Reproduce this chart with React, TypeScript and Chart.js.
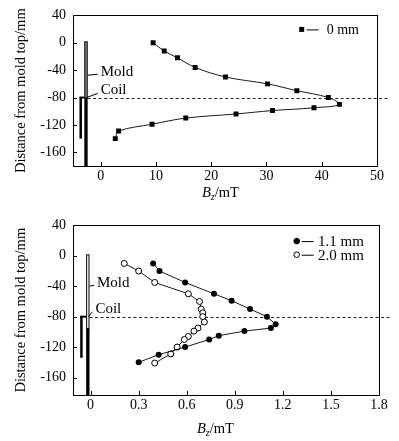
import React, { useEffect, useRef } from 'react';
import { Chart, registerables } from 'chart.js';

Chart.register(...registerables);

const FONT = '"Liberation Serif", "Times New Roman", serif';

// ---------- data: top chart ----------
const topLabel = '0 mm';
const topX = [9.5, 11.5, 13.9, 17.1, 22.6, 30.2, 35.5, 41.2, 43.2, 38.6, 31.1, 24.5, 15.4, 9.3, 3.25, 2.65];
const topY = [0, -12, -22, -36, -50, -60, -70, -80, -90, -95, -99, -104, -110, -119, -129, -140];
const topXTicks = [0, 10, 20, 30, 40, 50];
const yTicks = [40, 0, -40, -80, -120, -160];

// ---------- data: bottom chart ----------
const s1Label = '1.1 mm';
const s1X = [0.39, 0.43, 0.59, 0.77, 0.88, 0.995, 1.1, 1.155, 1.125, 0.96, 0.8, 0.74, 0.59, 0.425, 0.3];
const s1Y = [-10, -20, -35, -50, -59, -70, -80, -90, -95, -99, -105, -110, -120, -130, -140];
const s2Label = '2.0 mm';
const s2X = [0.21, 0.3, 0.4, 0.61, 0.68, 0.69, 0.7, 0.7, 0.71, 0.67, 0.645, 0.61, 0.585, 0.54, 0.5, 0.4];
const s2Y = [-10, -20, -35, -50, -60, -70, -75, -80, -87, -95, -99, -106, -110, -120, -129, -141];
const bottomXTicks = [0, 0.3, 0.6, 0.9, 1.2, 1.5, 1.8];

// ---------- schematic (mold / coil) in data units ----------
const topMoldX = [-2.95, -2.35];
const bottomMoldX = [-0.028, -0.007];
const topCoilX = -3.65;
const bottomCoilX = -0.059;
const moldTopY = 2;
const coilTopY = -80;
const topCoilBottomY = -140;
const bottomCoilBottomY = -134;
const topMoldLabel = [0, -43];
const topCoilLabel = [0, -69.5];
const bottomMoldLabel = [0.04, -36];
const bottomCoilLabel = [0.03, -69.5];

const zip = (xs: number[], ys: number[]) => xs.map((x, i) => ({ x, y: ys[i] }));

type Decor = {
  moldX: number[];
  moldFillFrom: number;
  moldFill: string;
  coilX: number;
  coilBottom: number;
  moldLabel: number[];
  coilLabel: number[];
  legendDx: number;
  legendDy: number;
  legendGap: number;
  legendTextDx: number;
  legendFont: number;
};

function decorPlugin(d: Decor) {
  return {
    id: 'decor',
    beforeDatasetsDraw(chart: any) {
      const { ctx, chartArea: a } = chart;
      const x = chart.scales.x;
      const y = chart.scales.y;
      const ml = x.getPixelForValue(d.moldX[0]);
      const mr = x.getPixelForValue(d.moldX[1]);
      const yt = y.getPixelForValue(moldTopY);
      const yc = y.getPixelForValue(coilTopY);
      const yf = y.getPixelForValue(d.moldFillFrom);
      ctx.save();
      // dashed reference line
      ctx.strokeStyle = '#222';
      ctx.lineWidth = 1;
      ctx.setLineDash([3, 2.5]);
      ctx.beginPath();
      ctx.moveTo(mr, Math.round(yc) + 0.5);
      ctx.lineTo(a.right + 13, Math.round(yc) + 0.5);
      ctx.stroke();
      ctx.setLineDash([]);
      // mold
      ctx.fillStyle = d.moldFill;
      ctx.fillRect(ml, yt, mr - ml, yf - yt);
      ctx.strokeStyle = '#000';
      ctx.strokeRect(ml + 0.5, yt + 0.5, mr - ml - 1, yf - yt);
      ctx.fillStyle = '#000';
      ctx.fillRect(ml, yf, mr - ml, a.bottom - yf);
      // coil
      const cx = x.getPixelForValue(d.coilX);
      const cb = y.getPixelForValue(d.coilBottom);
      ctx.fillRect(cx - 1, yc, 2.5, cb - yc);
      ctx.fillRect(cx - 1, yc - 1, ml - cx + 1, 2);
      // labels
      ctx.font = `15px ${FONT}`;
      ctx.textBaseline = 'middle';
      ctx.textAlign = 'left';
      const mlx = x.getPixelForValue(d.moldLabel[0]);
      const mly = y.getPixelForValue(d.moldLabel[1]);
      const clx = x.getPixelForValue(d.coilLabel[0]);
      const cly = y.getPixelForValue(d.coilLabel[1]);
      ctx.fillText('Mold', mlx, mly);
      ctx.fillText('Coil', clx, cly);
      ctx.lineWidth = 1;
      ctx.beginPath();
      ctx.moveTo(mr, mly + 3);
      ctx.lineTo(mlx - 3, mly + 2);
      ctx.stroke();
      ctx.beginPath();
      ctx.moveTo(mr - 1, yc);
      ctx.lineTo(clx - 3, cly + 3);
      ctx.stroke();
      ctx.restore();
    },
    afterDraw(chart: any) {
      const { ctx, chartArea: a } = chart;
      const x = chart.scales.x;
      const y = chart.scales.y;
      ctx.save();
      ctx.strokeStyle = '#000';
      ctx.lineWidth = 1;
      ctx.strokeRect(Math.round(a.left) + 0.5, Math.round(a.top) + 0.5, Math.round(a.right - a.left), Math.round(a.bottom - a.top));
      ctx.beginPath();
      x.ticks.forEach((t: any) => {
        const px = Math.round(x.getPixelForValue(t.value)) + 0.5;
        ctx.moveTo(px, a.bottom);
        ctx.lineTo(px, a.bottom - 4);
      });
      y.ticks.forEach((t: any) => {
        const py = Math.round(y.getPixelForValue(t.value)) + 0.5;
        ctx.moveTo(a.left, py);
        ctx.lineTo(a.left + 4, py);
      });
      ctx.stroke();
      // legend
      ctx.font = `${d.legendFont}px ${FONT}`;
      ctx.textBaseline = 'middle';
      ctx.textAlign = 'left';
      chart.data.datasets.forEach((ds: any, i: number) => {
        const mx = a.right - d.legendDx;
        const my = a.top + d.legendDy + i * d.legendGap;
        ctx.fillStyle = ds.pointBackgroundColor;
        ctx.strokeStyle = '#000';
        ctx.lineWidth = 1;
        if (ds.pointStyle === 'rect') {
          ctx.fillStyle = '#000';
          ctx.fillRect(mx - 2.5, my - 2.5, 5, 5);
        } else {
          ctx.beginPath();
          ctx.arc(mx, my, 2.8, 0, Math.PI * 2);
          ctx.fill();
          ctx.stroke();
        }
        ctx.beginPath();
        ctx.moveTo(mx + 5, my + 0.5);
        ctx.lineTo(mx + 17, my + 0.5);
        ctx.stroke();
        ctx.fillStyle = '#000';
        ctx.fillText(ds.label, mx + d.legendTextDx, my + 1);
      });
      ctx.restore();
    },
  };
}

function buildConfig(opts: {
  datasets: any[];
  xMin: number;
  xMax: number;
  yMin: number;
  yMax: number;
  xTicks: number[];
  xFmt: (v: number) => string;
  xHeight: number;
  padTop: number;
  padRight: number;
  decor: Decor;
}) {
  return {
    type: 'scatter',
    data: { datasets: opts.datasets },
    options: {
      responsive: false,
      animation: false,
      devicePixelRatio: 1,
      layout: { padding: { left: 0, right: opts.padRight, top: opts.padTop, bottom: 0 } },
      plugins: { legend: { display: false }, tooltip: { enabled: false } },
      scales: {
        x: {
          type: 'linear',
          min: opts.xMin,
          max: opts.xMax,
          afterBuildTicks: (s: any) => {
            s.ticks = opts.xTicks.map((v) => ({ value: v }));
          },
          afterFit: (s: any) => {
            s.height = opts.xHeight;
          },
          grid: { display: false, drawTicks: false },
          border: { display: false },
          ticks: {
            color: '#000',
            font: { family: FONT, size: 14 },
            padding: 2,
            maxRotation: 0,
            autoSkip: false,
            callback: (v: any) => opts.xFmt(Number(v)),
          },
        },
        y: {
          type: 'linear',
          min: opts.yMin,
          max: opts.yMax,
          afterBuildTicks: (s: any) => {
            s.ticks = yTicks.map((v) => ({ value: v }));
          },
          afterFit: (s: any) => {
            s.width = 73;
          },
          grid: { display: false, drawTicks: false },
          border: { display: false },
          title: {
            display: true,
            text: 'Distance from mold top/mm',
            color: '#000',
            font: { family: FONT, size: 14.5 },
            padding: { top: 12, bottom: 0 },
          },
          ticks: {
            color: '#000',
            font: { family: FONT, size: 14 },
            padding: 7,
            autoSkip: false,
            callback: (v: any) => String(v),
          },
        },
      },
    },
    plugins: [decorPlugin(opts.decor)],
  };
}

function ChartCanvas({ config, width, height, top }: { config: () => any; width: number; height: number; top: number }) {
  const ref = useRef<HTMLCanvasElement | null>(null);
  useEffect(() => {
    if (!ref.current) return;
    const chart = new Chart(ref.current, config() as any);
    return () => chart.destroy();
  }, []);
  return (
    <canvas
      ref={ref}
      width={width}
      height={height}
      style={{ position: 'absolute', left: 0, top, width, height, display: 'block' }}
    />
  );
}

function XTitle({ left, top }: { left: number; top: number }) {
  return (
    <div
      style={{
        position: 'absolute',
        left,
        top,
        fontFamily: FONT,
        fontSize: 14.5,
        lineHeight: '16px',
        whiteSpace: 'nowrap',
        color: '#000',
      }}
    >
      <i>B</i>
      <span style={{ fontSize: 10, fontStyle: 'italic', position: 'relative', top: 3 }}>z</span>
      /mT
    </div>
  );
}

export default function App() {
  const topConfig = () =>
    buildConfig({
      datasets: [
        {
          label: topLabel,
          data: zip(topX, topY),
          showLine: true,
          tension: 0.35,
          borderColor: '#000',
          borderWidth: 0.9,
          pointStyle: 'rect',
          pointRadius: 3.5,
          pointBackgroundColor: '#000',
          pointBorderWidth: 0,
        },
      ],
      xMin: -5,
      xMax: 50,
      yMin: -180,
      yMax: 40,
      xTicks: topXTicks,
      xFmt: (v) => String(v),
      xHeight: 44,
      padTop: 11,
      padRight: 22,
      decor: {
        moldX: topMoldX,
        moldFillFrom: -80,
        moldFill: '#999',
        coilX: topCoilX,
        coilBottom: topCoilBottomY,
        moldLabel: topMoldLabel,
        coilLabel: topCoilLabel,
        legendDx: 75.3,
        legendDy: 14,
        legendGap: 14,
        legendTextDx: 25,
        legendFont: 14,
      },
    });

  const bottomConfig = () =>
    buildConfig({
      datasets: [
        {
          label: s1Label,
          data: zip(s1X, s1Y),
          showLine: true,
          tension: 0,
          borderColor: '#000',
          borderWidth: 0.9,
          pointStyle: 'circle',
          pointRadius: 3,
          pointBackgroundColor: '#000',
          pointBorderColor: '#000',
          pointBorderWidth: 0,
        },
        {
          label: s2Label,
          data: zip(s2X, s2Y),
          showLine: true,
          tension: 0,
          borderColor: '#000',
          borderWidth: 0.9,
          pointStyle: 'circle',
          pointRadius: 3,
          pointBackgroundColor: '#fff',
          pointBorderColor: '#000',
          pointBorderWidth: 1,
        },
      ],
      xMin: -0.11,
      xMax: 1.8,
      yMin: -183,
      yMax: 40,
      xTicks: bottomXTicks,
      xFmt: (v) => (v === 0 ? '0' : v.toFixed(1)),
      xHeight: 46,
      padTop: 15,
      padRight: 20,
      decor: {
        moldX: bottomMoldX,
        moldFillFrom: -95,
        moldFill: '#fff',
        coilX: bottomCoilX,
        coilBottom: bottomCoilBottomY,
        moldLabel: bottomMoldLabel,
        coilLabel: bottomCoilLabel,
        legendDx: 82.3,
        legendDy: 15.7,
        legendGap: 13.6,
        legendTextDx: 21.3,
        legendFont: 15,
      },
    });

  return (
    <div style={{ position: 'fixed', left: 0, top: 0, width: 399, height: 441, background: '#fff', overflow: 'hidden' }}>
      <ChartCanvas config={topConfig} width={399} height={210} top={0} />
      <ChartCanvas config={bottomConfig} width={399} height={231} top={210} />
      <XTitle left={202} top={184} />
      <XTitle left={197} top={420} />
    </div>
  );
}
